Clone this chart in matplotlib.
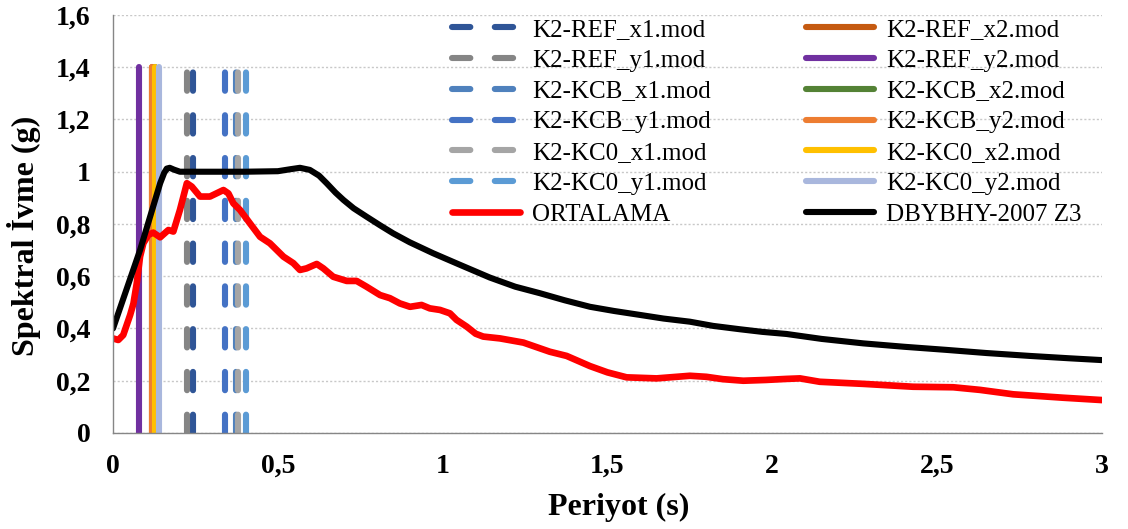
import matplotlib
matplotlib.use("Agg")
import matplotlib.pyplot as plt
from matplotlib.ticker import FuncFormatter

plt.rcParams['font.family'] = ['Liberation Serif', 'DejaVu Serif']

# vertical period markers (x position in s), drawn from 0 to 1.4 g
mod_names = ["K2-REF_x1.mod", "K2-REF_x2.mod", "K2-REF_y1.mod", "K2-REF_y2.mod",
             "K2-KCB_x1.mod", "K2-KCB_x2.mod", "K2-KCB_y1.mod", "K2-KCB_y2.mod",
             "K2-KC0_x1.mod", "K2-KC0_x2.mod", "K2-KC0_y1.mod", "K2-KC0_y2.mod"]
mod_periods = [0.242, 0.117, 0.223, 0.080,
               0.372, 0.127, 0.341, 0.117,
               0.379, 0.127, 0.402, 0.140]
mod_colors = ["#2F5597", "#C55A11", "#858585", "#7030A0",
              "#4F81BD", "#548235", "#4472C4", "#ED7D31",
              "#A5A5A5", "#FFC000", "#5B9BD5", "#A9B7DD"]
mod_dashed = [True, False, True, False,
              True, False, True, False,
              True, False, True, False]
mod_top = 1.4

# ORTALAMA (mean spectrum)
ort_T = [0.0, 0.016, 0.031, 0.052, 0.062, 0.072, 0.082, 0.092, 0.107, 0.122,
         0.143, 0.168, 0.183, 0.203, 0.224, 0.239, 0.264, 0.294, 0.335, 0.350,
         0.365, 0.385, 0.415, 0.446, 0.476, 0.517, 0.547, 0.567, 0.587, 0.618,
         0.638, 0.668, 0.709, 0.739, 0.769, 0.810, 0.840, 0.870, 0.901, 0.936,
         0.961, 0.992, 1.022, 1.042, 1.073, 1.100, 1.123, 1.174, 1.245, 1.325,
         1.376, 1.447, 1.500, 1.558, 1.649, 1.750, 1.800, 1.850, 1.912, 1.980,
         2.043, 2.084, 2.144, 2.276, 2.427, 2.549, 2.630, 2.731, 2.882, 3.0]
ort_A = [0.362, 0.356, 0.375, 0.452, 0.496, 0.573, 0.675, 0.726, 0.758, 0.767,
         0.749, 0.777, 0.771, 0.854, 0.956, 0.943, 0.905, 0.905, 0.930, 0.917,
         0.879, 0.854, 0.803, 0.751, 0.726, 0.675, 0.650, 0.624, 0.630, 0.647,
         0.630, 0.598, 0.582, 0.582, 0.560, 0.528, 0.516, 0.496, 0.483, 0.490,
         0.477, 0.471, 0.458, 0.433, 0.407, 0.380, 0.369, 0.362, 0.346, 0.311,
         0.295, 0.256, 0.232, 0.213, 0.209, 0.219, 0.215, 0.206, 0.200, 0.203,
         0.207, 0.209, 0.196, 0.188, 0.177, 0.175, 0.165, 0.148, 0.135, 0.126]

# DBYBHY-2007 Z3 design spectrum
dby_T = [0.0, 0.082, 0.143, 0.155, 0.163, 0.172, 0.185, 0.203, 0.25, 0.30,
         0.40, 0.50, 0.54, 0.567, 0.597, 0.625, 0.648, 0.675, 0.699, 0.73,
         0.769, 0.81, 0.85, 0.90, 0.971, 1.05, 1.143, 1.22, 1.295, 1.37,
         1.447, 1.52, 1.598, 1.67, 1.75, 1.82, 1.902, 1.97, 2.043, 2.15,
         2.276, 2.40, 2.529, 2.65, 2.781, 2.90, 3.0]
dby_A = [0.40, 0.70, 0.956, 0.995, 1.012, 1.015, 1.008, 1.0, 1.0, 1.0,
         1.0, 1.002, 1.01, 1.015, 1.007, 0.985, 0.956, 0.92, 0.892, 0.86,
         0.828, 0.795, 0.764, 0.73, 0.688, 0.645, 0.595, 0.56, 0.535, 0.508,
         0.483, 0.467, 0.452, 0.438, 0.426, 0.41, 0.397, 0.387, 0.379, 0.36,
         0.343, 0.33, 0.318, 0.306, 0.295, 0.286, 0.279]

fig = plt.figure(figsize=(11.28, 5.29), dpi=100)
ax = fig.add_axes([0.1002, 0.1815, 0.8767, 0.7902])

lw = 4.4
handles = {}
for name, T, c, dashed in zip(mod_names, mod_periods, mod_colors, mod_dashed):
    if dashed:
        ln, = ax.plot([T, T], [0, mod_top], color=c, lw=lw, dashes=(3.0, 4.0),
                      dash_capstyle='round', label=name)
    else:
        ln, = ax.plot([T, T], [0, mod_top], color=c, lw=lw,
                      solid_capstyle='round', label=name)
    handles[name] = ln

h_ort, = ax.plot(ort_T, ort_A, color="#FF0000", lw=4.8, solid_joinstyle='round',
                 solid_capstyle='round', label="ORTALAMA")
h_dby, = ax.plot(dby_T, dby_A, color="black", lw=lw, solid_joinstyle='round',
                 solid_capstyle='round', label="DBYBHY-2007 Z3")

ax.set_xlim(0, 3)
ax.set_ylim(0, 1.6)
ax.set_xticks([0, 0.5, 1, 1.5, 2, 2.5, 3])
ax.set_yticks([0, 0.2, 0.4, 0.6, 0.8, 1.0, 1.2, 1.4, 1.6])
fmt = FuncFormatter(lambda v, p: ("%g" % round(v, 2)).replace(".", ","))
ax.xaxis.set_major_formatter(fmt)
ax.yaxis.set_major_formatter(fmt)
ax.tick_params(axis='y', length=0, pad=16, labelsize=20)
ax.tick_params(axis='x', length=0, pad=15, labelsize=20)
for lab in ax.get_xticklabels() + ax.get_yticklabels():
    lab.set_fontweight('bold')

ax.grid(axis='y', color='#C8C8C8', lw=1.0, ls=(0, (1.5, 1.5)))
ax.set_axisbelow(True)
for s in ['top', 'right']:
    ax.spines[s].set_visible(False)
for s in ['left', 'bottom']:
    ax.spines[s].set_color('#868686')
    ax.spines[s].set_linewidth(1.0)

ax.set_xlabel("Periyot (s)", fontsize=23, fontweight='bold')
ax.xaxis.set_label_coords(0.511, -0.143)
ax.set_ylabel("Spektral İvme (g)", fontsize=23, fontweight='bold')
ax.yaxis.set_label_coords(-0.073, 0.472)

# legend: first column x1/y1 entries, second column x2/y2 entries
col1 = [handles[n] for n in mod_names if n.endswith("1.mod")] + [h_ort]
col2 = [handles[n] for n in mod_names if n.endswith("2.mod")] + [h_dby]
leg = fig.legend(col1 + col2, [h.get_label() for h in col1 + col2],
                 ncol=2, loc='upper left', bbox_to_anchor=(0.401, 0.965),
                 frameon=False, fontsize=18, handlelength=2.7,
                 handletextpad=0.5, columnspacing=3.8, labelspacing=0.33,
                 borderpad=0, borderaxespad=0)

fig.savefig("out.png", dpi=100)
